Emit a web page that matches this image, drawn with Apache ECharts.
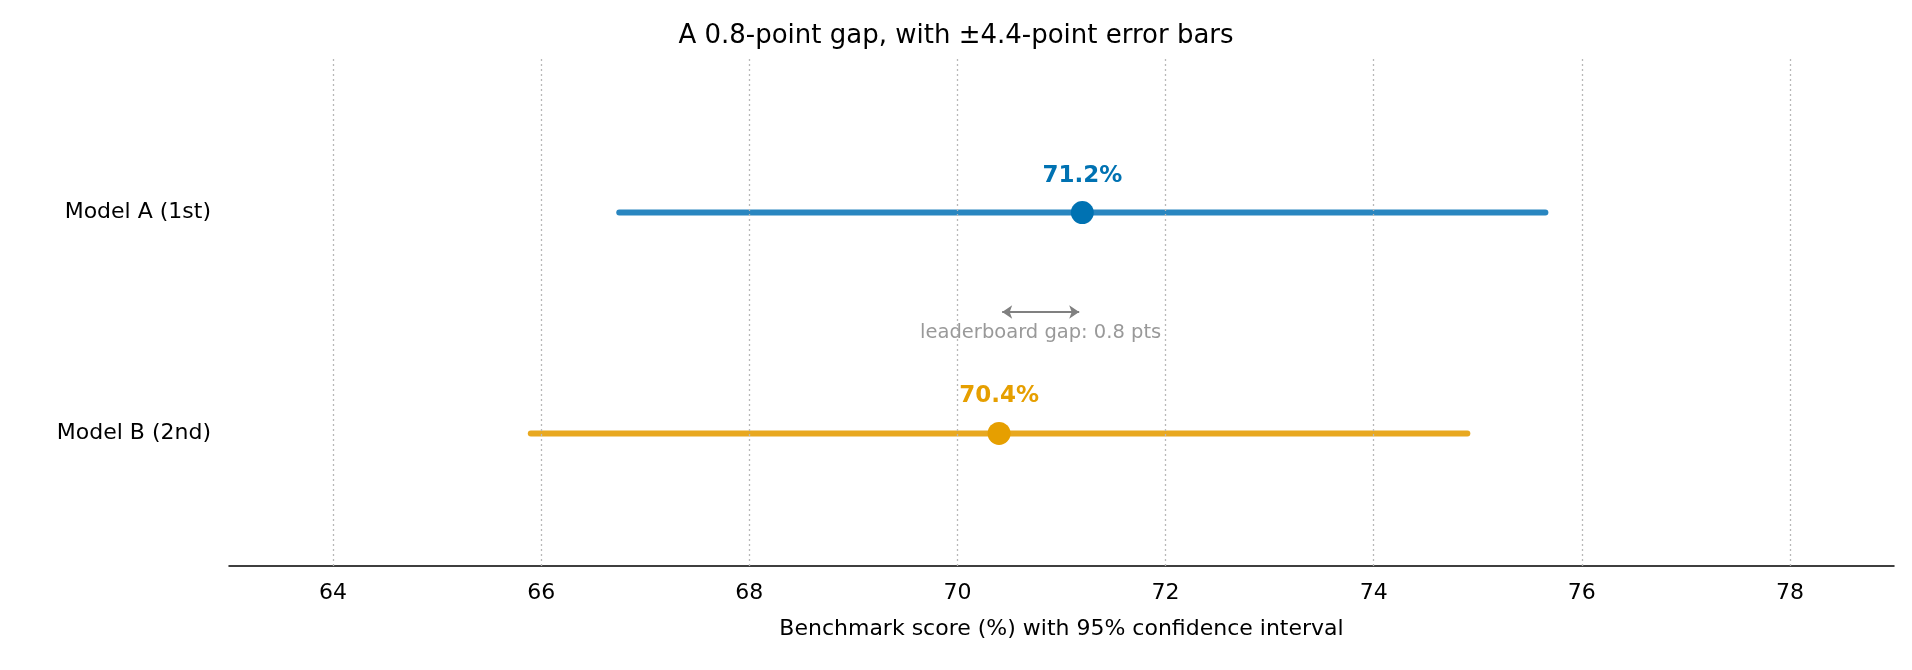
<!DOCTYPE html>
<html>
<head>
<meta charset="utf-8">
<script src="https://cdn.jsdelivr.net/npm/echarts@6/dist/echarts.min.js"></script>
<style>html,body{margin:0;padding:0;background:#fff}#c{width:1912px;height:670px}</style>
</head>
<body>
<div id="c"></div>
<script>
// models, bottom to top (y = 0, 1)
var models = ['Model B (2nd)', 'Model A (1st)'];
var scores = [70.4, 71.2];
var ciLow = [65.9, 66.75];
var ciHigh = [74.9, 75.65];
var lineColors = ['#e8a820', '#2986c0'];
var dotColors = ['#e69f00', '#0072b2'];
var gridTicks = [64, 66, 68, 70, 72, 74, 76, 78];

var chart = echarts.init(document.getElementById('c'));
var font = 'DejaVu Sans';
var series = [];

models.forEach(function (m, i) {
    series.push({
        type: 'line',
        data: [[ciLow[i], i], [ciHigh[i], i]],
        symbol: 'none',
        lineStyle: { color: lineColors[i], width: 6, cap: 'round' },
        z: 3
    });
    series.push({
        type: 'scatter',
        data: [[scores[i], i]],
        symbolSize: 23,
        itemStyle: { color: dotColors[i], opacity: 1 },
        label: {
            show: true, position: 'top', distance: 14,
            formatter: scores[i].toFixed(1) + '%',
            color: dotColors[i], fontWeight: 'bold', fontSize: 23, fontFamily: font
        },
        z: 4
    });
});

// vertical dotted grid lines
series.push({
    type: 'line', data: [], silent: true,
    markLine: {
        silent: true, symbol: 'none', label: { show: false },
        lineStyle: { color: '#b8b8b8', type: [2, 3], width: 1.3 },
        data: gridTicks.map(function (v) { return { xAxis: v }; })
    }
});

// gap arrow
series.push({
    type: 'lines', coordinateSystem: 'cartesian2d',
    data: [{ coords: [[scores[0] + 0.03, 0.55], [scores[1] - 0.03, 0.55]] }],
    symbol: ['arrow', 'arrow'], symbolSize: 10,
    lineStyle: { color: '#808080', width: 2, opacity: 1 },
    z: 5
});
series.push({
    type: 'scatter', data: [[(scores[0] + scores[1]) / 2, 0.455]], symbolSize: 0,
    label: {
        show: true, position: 'inside', formatter: 'leaderboard gap: 0.8 pts',
        color: '#808080', fontSize: 19.5, fontFamily: font
    }
});

chart.setOption({
    animation: false,
    title: {
        text: 'A 0.8-point gap, with ±4.4-point error bars',
        left: 'center', top: 18,
        textStyle: { fontFamily: font, fontWeight: 'normal', fontSize: 26, color: '#000' }
    },
    grid: { left: 229, right: 18, top: 58, bottom: 104 },
    xAxis: {
        type: 'value', min: 63, max: 79, interval: 1,
        name: 'Benchmark score (%) with 95% confidence interval',
        nameLocation: 'middle', nameGap: 52,
        nameTextStyle: { fontFamily: font, fontSize: 22, color: '#000' },
        axisLine: { show: true, onZero: false, lineStyle: { color: '#000', width: 1.5 } },
        axisTick: { show: false },
        splitLine: { show: false },
        axisLabel: {
            fontFamily: font, fontSize: 22, color: '#000', margin: 16,
            formatter: function (v) { return v % 2 === 0 ? String(v) : ''; }
        }
    },
    yAxis: {
        type: 'value', min: -0.6, max: 1.7, interval: 0.2,
        axisLine: { show: false }, axisTick: { show: false }, splitLine: { show: false },
        axisLabel: {
            fontFamily: font, fontSize: 22, color: '#000', margin: 18,
            formatter: function (v) {
                for (var i = 0; i < models.length; i++) {
                    if (Math.abs(v - i) < 1e-6) return models[i];
                }
                return '';
            }
        }
    },
    series: series
});
</script>
</body>
</html>
